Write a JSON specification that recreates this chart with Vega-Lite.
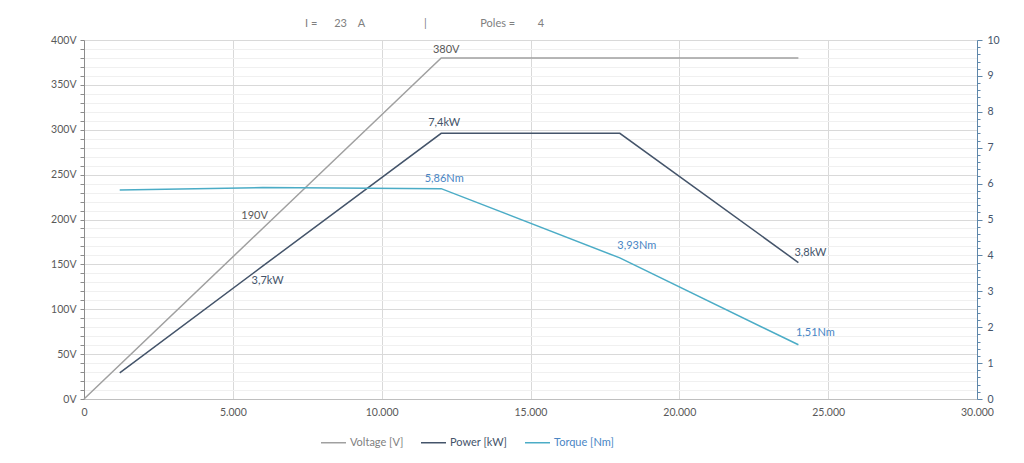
{
  "$schema": "https://vega.github.io/schema/vega-lite/v6.json",
  "autosize": {"type": "none"},
  "width": 893,
  "height": 359,
  "padding": {"left": 84, "top": 40, "right": 47, "bottom": 64},
  "background": "white",
  "config": {
    "view": {"stroke": null},
    "font": "Lato",
    "axis": {"labelFont": "Lato", "labelFontSize": 10.5, "labelColor": "#595959", "titleFont": "Lato"},
    "legend": {"labelFont": "Lato"}
  },
  "title": {
    "text": "I =\u00a0\u00a0\u00a0\u00a0\u00a0\u00a023\u00a0\u00a0\u00a0\u00a0A\u00a0\u00a0\u00a0\u00a0\u00a0\u00a0\u00a0\u00a0\u00a0\u00a0\u00a0\u00a0\u00a0\u00a0\u00a0\u00a0\u00a0\u00a0\u00a0\u00a0\u00a0|\u00a0\u00a0\u00a0\u00a0\u00a0\u00a0\u00a0\u00a0\u00a0\u00a0\u00a0\u00a0\u00a0\u00a0\u00a0\u00a0\u00a0\u00a0\u00a0Poles =\u00a0\u00a0\u00a0\u00a0\u00a0\u00a0\u00a0\u00a04",
    "anchor": "start",
    "frame": "group",
    "dx": 221,
    "offset": 6,
    "font": "Lato",
    "fontSize": 11,
    "fontWeight": "normal",
    "color": "#808080"
  },
  "data": {
    "values": [
      {"series": "Voltage [V]", "rpm": 0, "value": 0, "label": ""},
      {"series": "Voltage [V]", "rpm": 6000, "value": 190, "label": "190V"},
      {"series": "Voltage [V]", "rpm": 12000, "value": 380, "label": "380V"},
      {"series": "Voltage [V]", "rpm": 24000, "value": 380, "label": ""},
      {"series": "Power [kW]", "rpm": 1200, "value": 0.73, "label": ""},
      {"series": "Power [kW]", "rpm": 6000, "value": 3.7, "label": "3,7kW"},
      {"series": "Power [kW]", "rpm": 12000, "value": 7.4, "label": "7,4kW"},
      {"series": "Power [kW]", "rpm": 18000, "value": 7.4, "label": ""},
      {"series": "Power [kW]", "rpm": 24000, "value": 3.8, "label": "3,8kW"},
      {"series": "Torque [Nm]", "rpm": 1200, "value": 5.82, "label": ""},
      {"series": "Torque [Nm]", "rpm": 6000, "value": 5.89, "label": ""},
      {"series": "Torque [Nm]", "rpm": 12000, "value": 5.86, "label": "5,86Nm"},
      {"series": "Torque [Nm]", "rpm": 18000, "value": 3.93, "label": "3,93Nm"},
      {"series": "Torque [Nm]", "rpm": 24000, "value": 1.51, "label": "1,51Nm"}
    ]
  },
  "encoding": {
    "x": {
      "field": "rpm",
      "type": "quantitative",
      "scale": {"domain": [0, 30000], "nice": false},
      "axis": {
        "title": null,
        "values": [0, 5000, 10000, 15000, 20000, 25000, 30000],
        "labelExpr": "replace(format(datum.value, ','), ',', '.')",
        "ticks": false,
        "labelPadding": 8,
        "domainColor": "#bfbfbf",
        "gridColor": "#d9d9d9",
        "labelFlush": false
      }
    }
  },
  "layer": [
    {
      "transform": [{"filter": "datum.series == 'Voltage [V]'"}],
      "encoding": {
        "y": {
          "field": "value",
          "type": "quantitative",
          "scale": {"domain": [0, 400], "nice": false},
          "axis": {
            "title": null,
            "orient": "left",
            "values": [0,10,20,30,40,50,60,70,80,90,100,110,120,130,140,150,160,170,180,190,200,210,220,230,240,250,260,270,280,290,300,310,320,330,340,350,360,370,380,390,400],
            "labelExpr": "datum.value % 50 == 0 ? datum.value + 'V' : ''",
            "gridColor": {"condition": {"test": "datum.value % 50 == 0", "value": "#d9d9d9"}, "value": "#f0f0f0"},
            "tickSize": 4,
            "tickColor": "#8c8c8c",
            "domainColor": "#8c8c8c",
            "labelPadding": 4
          }
        }
      },
      "layer": [
        {
          "mark": {"type": "line", "strokeWidth": 1.5},
          "encoding": {
            "color": {
              "field": "series",
              "type": "nominal",
              "scale": {"domain": ["Voltage [V]", "Power [kW]", "Torque [Nm]"], "range": ["#a0a0a0", "#44546a", "#4bacc6"]},
              "legend": {
                "title": null,
                "orient": "none",
                "direction": "horizontal",
                "legendX": 236,
                "legendY": 389,
                "symbolType": "stroke",
                "symbolSize": 625,
                "symbolStrokeWidth": 1.5,
                "labelFontSize": 11,
                "labelOffset": 3,
                "columnPadding": 14,
                "labelColor": {"expr": "datum.value == 'Voltage [V]' ? '#808080' : datum.value == 'Power [kW]' ? '#44546a' : '#4a86c5'"}
              }
            }
          }
        },
        {
          "transform": [{"filter": "datum.label == '380V'"}],
          "mark": {"type": "text", "dx": 5, "dy": -8, "fontSize": 11, "color": "#595959", "font": "Lato"},
          "encoding": {"text": {"field": "label"}}
        },
        {
          "transform": [{"filter": "datum.label == '190V'"}],
          "mark": {"type": "text", "dx": -8, "dy": -12, "fontSize": 11, "color": "#595959", "font": "Lato"},
          "encoding": {"text": {"field": "label"}}
        }
      ]
    },
    {
      "transform": [{"filter": "datum.series != 'Voltage [V]'"}],
      "encoding": {
        "y": {
          "field": "value",
          "type": "quantitative",
          "scale": {"domain": [0, 10], "nice": false},
          "axis": {
            "title": null,
            "orient": "right",
            "grid": false,
            "values": [0,0.2,0.4,0.6,0.8,1,1.2,1.4,1.6,1.8,2,2.2,2.4,2.6,2.8,3,3.2,3.4,3.6,3.8,4,4.2,4.4,4.6,4.8,5,5.2,5.4,5.6,5.8,6,6.2,6.4,6.6,6.8,7,7.2,7.4,7.6,7.8,8,8.2,8.4,8.6,8.8,9,9.2,9.4,9.6,9.8,10],
            "labelExpr": "abs(datum.value - round(datum.value)) < 0.01 ? format(datum.value, 'd') : ''",
            "tickSize": {"condition": {"test": "abs(datum.value - round(datum.value)) < 0.01", "value": 5}, "value": 3},
            "tickColor": "#5f87aa",
            "domainColor": "#5f87aa",
            "labelColor": "#44546a",
            "labelPadding": 5
          }
        }
      },
      "layer": [
        {
          "mark": {"type": "line", "strokeWidth": 1.5},
          "encoding": {"color": {"field": "series", "type": "nominal"}}
        },
        {
          "transform": [{"filter": "indexof(['7,4kW', '5,86Nm'], datum.label) >= 0"}],
          "mark": {"type": "text", "dx": 3, "dy": -10, "fontSize": 11},
          "encoding": {
            "text": {"field": "label"},
            "color": {"condition": {"test": "datum.series == 'Torque [Nm]'", "value": "#4a86c5"}, "value": "#44546a"}
          }
        },
        {
          "transform": [{"filter": "indexof(['3,93Nm', '1,51Nm'], datum.label) >= 0"}],
          "mark": {"type": "text", "dx": 17, "dy": -12, "fontSize": 11, "color": "#4a86c5"},
          "encoding": {"text": {"field": "label"}}
        },
        {
          "transform": [{"filter": "datum.label == '3,8kW'"}],
          "mark": {"type": "text", "dx": 12, "dy": -10, "fontSize": 11, "color": "#44546a"},
          "encoding": {"text": {"field": "label"}}
        },
        {
          "transform": [{"filter": "datum.label == '3,7kW'"}],
          "mark": {"type": "text", "dx": 5, "dy": 15, "fontSize": 11, "color": "#44546a"},
          "encoding": {"text": {"field": "label"}}
        }
      ]
    }
  ],
  "resolve": {"scale": {"y": "independent"}}
}
